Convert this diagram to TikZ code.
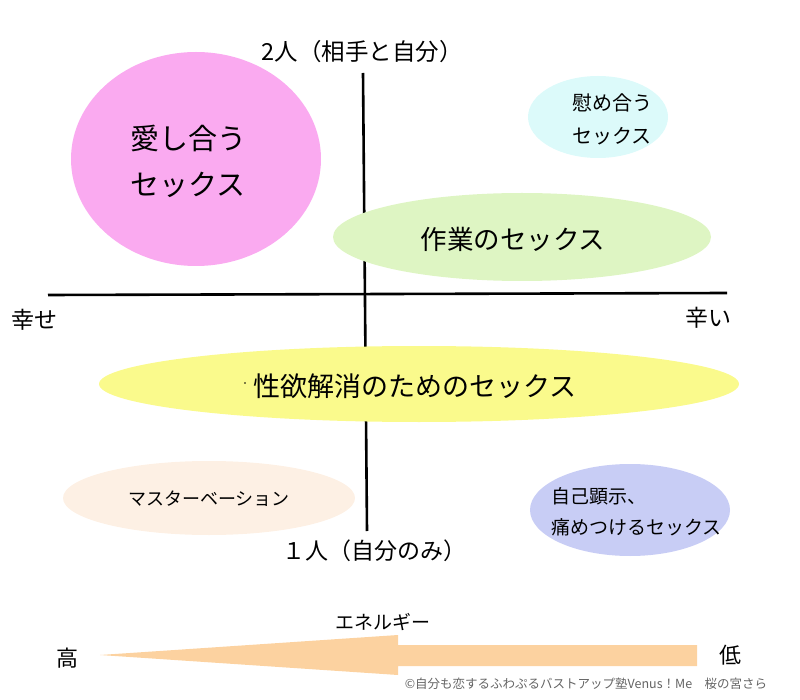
\documentclass[tikz,border=0pt]{standalone}
\usepackage{fontspec}
\setmainfont{Noto Sans CJK JP}
\usetikzlibrary{shapes.geometric}
\definecolor{pinkc}{RGB}{250,170,240}
\definecolor{cyanc}{RGB}{220,250,250}
\definecolor{greenc}{RGB}{222,245,195}
\definecolor{yellowc}{RGB}{250,250,140}
\definecolor{peachc}{RGB}{253,240,228}
\definecolor{lavc}{RGB}{200,205,245}
\definecolor{arrowc}{RGB}{252,210,160}
\definecolor{copyc}{RGB}{100,100,100}
\begin{document}
\begin{tikzpicture}[x=1pt,y=-1pt,
  blob/.style={ellipse, draw=none, inner sep=0pt},
  txt/.style={inner sep=0pt, text=black},
  axisline/.style={line width=2.6pt, black}]
\useasboundingbox (0,0) rectangle (800,700);
% axes
\coordinate (vtop) at (363,73);
\coordinate (vbot) at (367,531);
\coordinate (hleft) at (48,295);
\coordinate (hright) at (727,293);
\draw[axisline] (vtop) -- (vbot);
\draw[axisline] (hleft) -- (hright);
% ellipses
\node[blob, fill=pinkc, minimum width=250, minimum height=214] (ai) at (196,159) {};
\node[blob, fill=cyanc, minimum width=140, minimum height=82] (nagusame) at (598,117) {};
\node[blob, fill=greenc, minimum width=378, minimum height=88] (sagyo) at (522,237) {};
\node[blob, fill=yellowc, minimum width=640, minimum height=76] (seiyoku) at (419,384) {};
\node[blob, fill=peachc, minimum width=292, minimum height=74] (masu) at (209,498) {};
\node[blob, fill=lavc, minimum width=200, minimum height=92] (jiko) at (630,510) {};
% texts
\node[txt, align=left, anchor=west, font=\fontsize{29}{46}\selectfont] (aitxt) at (130,161) {愛し合う\\セックス};
\node[txt, align=left, anchor=west, font=\fontsize{20}{33}\selectfont] (nagusametxt) at (572,119) {慰め合う\\セックス};
\node[txt, font=\fontsize{26.5}{30}\selectfont] (sagyotxt) at (513,239) {作業のセックス};
\node[txt, font=\fontsize{27}{30}\selectfont] (seiyokutxt) at (415,386) {性欲解消のためのセックス};
\node[txt, font=\fontsize{18}{22}\selectfont] (masutxt) at (209,499) {マスターベーション};
\node[txt, align=left, anchor=west, font=\fontsize{19}{31}\selectfont] (jikotxt) at (551,512) {自己顕示、\\痛めつけるセックス};
\fill (245,383) circle (0.8);
% axis labels
\node[txt, font=\fontsize{23.5}{26}\selectfont] (futari) at (362,52) {2人（相手と自分）};
\node[txt, font=\fontsize{23}{26}\selectfont] (hitori) at (374,551) {１人（自分のみ）};
\node[txt, font=\fontsize{23}{26}\selectfont] (shiawase) at (35,320) {幸せ};
\node[txt, font=\fontsize{23}{26}\selectfont] (tsurai) at (708,318) {辛い};
% energy arrow
\fill[arrowc] (697,645) -- (398,645) -- (398,635) -- (100,655) -- (398,675) -- (398,666) -- (697,666) -- cycle;
\node[txt, font=\fontsize{19}{22}\selectfont] (energy) at (383,622) {エネルギー};
\node[txt, font=\fontsize{22}{26}\selectfont] (taka) at (67,658) {高};
\node[txt, font=\fontsize{22}{26}\selectfont] (hiku) at (730,655) {低};
\node[txt, text=copyc, font=\fontsize{12.5}{14}\selectfont] (copy) at (586,684) {©自分も恋するふわぷるバストアップ塾Venus！Me\quad 桜の宮さら};
\end{tikzpicture}
\end{document}
